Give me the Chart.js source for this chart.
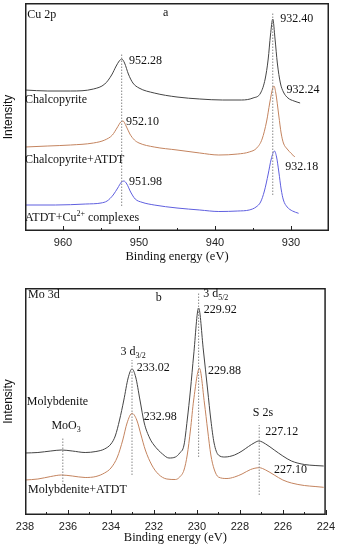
<!DOCTYPE html>
<html>
<head>
<meta charset="utf-8">
<script src="https://cdn.jsdelivr.net/npm/chart.js@4.4.1/dist/chart.umd.min.js"></script>
<style>
  html, body { margin: 0; padding: 0; background: #fff; }
  #wrap { position: relative; width: 340px; height: 550px; }
  #cuChart { position: absolute; left: 0; top: 0; }
  #moChart { position: absolute; left: 0; top: 270px; }
</style>
</head>
<body>
<div id="wrap">
  <canvas id="cuChart" width="340" height="270"></canvas>
  <canvas id="moChart" width="340" height="280"></canvas>
</div>
<script>
// panel a - Cu 2p  (binding energy eV, intensity a.u.)
const cuTicks = [960, 950, 940, 930];
const cuMinorTicks = [955, 945, 935];
const chalcopyrite = [[965,141],[962,140],[959,140],[956,142],[954.5,147],[953.6,156],[953.0,165],[952.6,170],[952.28,172],[951.9,168],[951.4,157],[950.8,148],[950,143],[948,138],[945,134],[942,132],[939,131],[936.5,131],[935,133],[934,138],[933.4,152],[933,172],[932.7,196],[932.4,212],[932.1,192],[931.8,168],[931.4,148],[931,139],[930.4,133],[929.6,130],[928.8,128]];
const chalcoAtdt = [[965,84],[962,85],[959,86],[956,88],[954.5,91],[953.5,96],[952.9,103],[952.4,109],[952.1,110],[951.7,105],[951.2,97],[950.6,91],[950,88],[948,84],[945,81],[942,78],[939.5,76],[937,77],[935.5,79],[934.5,83],[933.8,92],[933.2,110],[932.8,128],[932.4,143],[932.24,145],[932,138],[931.6,115],[931.3,98],[931,88],[930.5,82],[929.5,74]];
const atdtCu = [[965,26],[961,26],[957,27],[955,28],[954.2,30],[953.4,36],[952.8,43],[952.3,49],[951.98,50],[951.6,47],[951.1,39],[950.5,32],[949.6,28.7],[948,26],[945,23],[942,21],[939.5,19.5],[937,20],[935.5,21],[934.6,24],[934,29],[933.5,40],[933,57],[932.6,72],[932.18,80],[931.9,74],[931.6,59],[931.3,42],[931,31],[930.5,24],[929.8,20],[929,17.7]];
const cuRefLines = [[952.28, 25, 178], [932.40, 36, 218]];
const cuLabels = [
  { x: 964.7, y: 216, parts: [['Cu 2p']] },
  { x: 946.5, y: 218, parts: [['a']], center: true },
  { x: 951.3, y: 170, parts: [['952.28']] },
  { x: 931.4, y: 212, parts: [['932.40']] },
  { x: 930.6, y: 141, parts: [['932.24']] },
  { x: 965, y: 131, parts: [['Chalcopyrite']] },
  { x: 951.7, y: 109, parts: [['952.10']] },
  { x: 965, y: 71, parts: [['Chalcopyrite+ATDT']] },
  { x: 930.75, y: 64, parts: [['932.18']] },
  { x: 951.3, y: 49, parts: [['951.98']] },
  { x: 965, y: 13, parts: [['ATDT+Cu'], ['2+', 'sup'], [' complexes']] }
];

// panel b - Mo 3d
const moTicks = [238, 236, 234, 232, 230, 228, 226, 224];
const moMinorTicks = [237, 235, 233, 231, 229, 227, 225];
const molybdenite = [[238,62],[237.4,62.5],[236.8,64],[236.3,65],[235.8,64],[235.2,62.5],[234.7,63.5],[234.3,66],[234,71],[233.8,79],[233.6,95],[233.4,115],[233.2,137],[233.02,146],[232.85,138],[232.65,115],[232.45,92],[232.2,77],[232,70],[231.6,61],[231.3,57],[231,58],[230.8,62],[230.6,70],[230.45,95],[230.3,125],[230.15,160],[229.92,207],[229.7,165],[229.5,125],[229.35,95],[229.2,72],[229,60],[228.7,58],[228.25,60],[227.9,64],[227.6,68.5],[227.3,72.5],[227.12,74],[226.8,71],[226.4,65],[226,59],[225.6,54],[225,50.5],[224.5,49.5],[224.1,49]];
const molyAtdt = [[238,35],[237.4,36],[236.8,38.5],[236.3,40],[235.8,39],[235.2,37.5],[234.7,38.5],[234.3,42],[234,47],[233.7,58],[233.45,75],[233.25,92],[233.02,101.7],[232.8,95],[232.6,80],[232.4,65],[232.1,50],[231.8,41],[231.4,36],[231,35.5],[230.8,38],[230.6,45],[230.45,60],[230.3,85],[230.15,115],[229.88,146.7],[229.65,112],[229.5,85],[229.35,60],[229.2,46],[229,38],[228.6,36.5],[228.25,38],[227.9,41],[227.5,45.5],[227.1,47.3],[226.8,45],[226.4,40],[226,35],[225.6,32],[225,29.5],[224.5,28.5],[224.1,27.7]];
const moRefLines = [[236.24, 30, 78], [233.02, 40, 155], [229.92, 58, 223], [227.1, 20, 90]];
const moLabels = [
  { x: 237.86, y: 220, parts: [['Mo 3d']] },
  { x: 231.78, y: 217, parts: [['b']], center: true },
  { x: 229.71, y: 221, parts: [['3 d'], ['5/2', 'sub']] },
  { x: 229.68, y: 205, parts: [['229.92']] },
  { x: 233.55, y: 163, parts: [['3 d'], ['3/2', 'sub']] },
  { x: 232.8, y: 147, parts: [['233.02']] },
  { x: 229.48, y: 144, parts: [['229.88']] },
  { x: 237.92, y: 113, parts: [['Molybdenite']] },
  { x: 232.47, y: 98, parts: [['232.98']] },
  { x: 227.4, y: 102, parts: [['S 2s']] },
  { x: 236.77, y: 89, parts: [['MoO'], ['3', 'sub']] },
  { x: 226.82, y: 83, parts: [['227.12']] },
  { x: 226.41, y: 45, parts: [['227.10']] },
  { x: 237.86, y: 25, parts: [['Molybdenite+ATDT']] }
];

const BLACK = '#444', BROWN = '#c4845f', BLUE = '#5f5fdf';
const SERIF = '"Liberation Serif", "Times New Roman", serif';
const SANS = '"Liberation Sans", Arial, sans-serif';

// frame, inward ticks and text notes
const framePlugin = {
  id: 'frame',
  afterDraw(chart, args, opts) {
    const { ctx, chartArea: a, scales: { x, y } } = chart;
    ctx.save();
    ctx.strokeStyle = '#222';
    ctx.lineWidth = 1.5;
    ctx.strokeRect(a.left + 0.75, a.top + 0.75, a.right - a.left - 1.5, a.bottom - a.top - 1.5);
    ctx.lineWidth = 1;
    const tick = (v, len) => {
      const px = Math.round(x.getPixelForValue(v)) + 0.5;
      ctx.beginPath();
      ctx.moveTo(px, a.bottom);
      ctx.lineTo(px, a.bottom - len);
      ctx.stroke();
    };
    opts.major.forEach(v => tick(v, 5));
    opts.minor.forEach(v => tick(v, 3));

    ctx.fillStyle = '#111';
    ctx.textBaseline = 'middle';
    opts.labels.forEach(l => {
      let px = x.getPixelForValue(l.x);
      const py = y.getPixelForValue(l.y);
      const fontFor = p => (p[1] ? '8px ' : '12px ') + SERIF;
      if (l.center) {
        let w = 0;
        l.parts.forEach(p => { ctx.font = fontFor(p); w += ctx.measureText(p[0]).width; });
        px -= w / 2;
      }
      l.parts.forEach(p => {
        ctx.font = fontFor(p);
        const dy = p[1] === 'sup' ? -4 : p[1] === 'sub' ? 4 : 0;
        ctx.fillText(p[0], px, py + dy);
        px += ctx.measureText(p[0]).width;
      });
    });
    ctx.restore();
  }
};

function curve(data, color) {
  return { data: data, borderColor: color, borderWidth: 1, pointRadius: 0, cubicInterpolationMode: 'monotone', fill: false };
}
function refLine(r) {
  return { data: [[r[0], r[1]], [r[0], r[2]]], borderColor: '#888', borderWidth: 1, borderDash: [1.5, 1.5], pointRadius: 0 };
}

function makeChart(id, cfg) {
  new Chart(document.getElementById(id), {
    type: 'line',
    data: { datasets: cfg.refs.map(refLine).concat(cfg.series) },
    options: {
      responsive: false,
      animation: false,
      layout: { padding: { left: 0, right: 11, top: cfg.padTop, bottom: 0 } },
      plugins: {
        legend: { display: false },
        tooltip: { enabled: false },
        frame: { major: cfg.ticks, minor: cfg.minor, labels: cfg.labels }
      },
      scales: {
        x: {
          type: 'linear', reverse: true, min: cfg.min, max: cfg.max,
          afterBuildTicks: s => { s.ticks = cfg.ticks.map(v => ({ value: v })); },
          afterFit: s => { s.height = cfg.axisH; },
          grid: { display: false, drawTicks: false },
          border: { display: false },
          ticks: { font: { family: SANS, size: 11 }, color: '#222', padding: 5, maxRotation: 0, autoSkip: false },
          title: { display: true, text: 'Binding energy (eV)', color: '#111', font: { family: SERIF, size: 12.5 }, padding: { top: 0, bottom: cfg.titlePad } }
        },
        y: {
          min: 0, max: cfg.ymax,
          afterFit: s => { s.width = 25; },
          grid: { display: false, drawTicks: false },
          border: { display: false },
          ticks: { display: false },
          title: { display: true, text: 'Intensity', color: '#111', font: { family: SANS, size: 12 }, padding: { top: 1, bottom: 0 } }
        }
      }
    },
    plugins: [framePlugin]
  });
}

makeChart('cuChart', {
  min: 925, max: 965, ymax: 228, padTop: 3, axisH: 39, titlePad: 6,
  ticks: cuTicks, minor: cuMinorTicks, labels: cuLabels, refs: cuRefLines,
  series: [curve(chalcopyrite, BLACK), curve(chalcoAtdt, BROWN), curve(atdtCu, BLUE)]
});
makeChart('moChart', {
  min: 224, max: 238, ymax: 227, padTop: 18, axisH: 35, titlePad: 5,
  ticks: moTicks, minor: moMinorTicks, labels: moLabels, refs: moRefLines,
  series: [curve(molybdenite, BLACK), curve(molyAtdt, BROWN)]
});
</script>
</body>
</html>
